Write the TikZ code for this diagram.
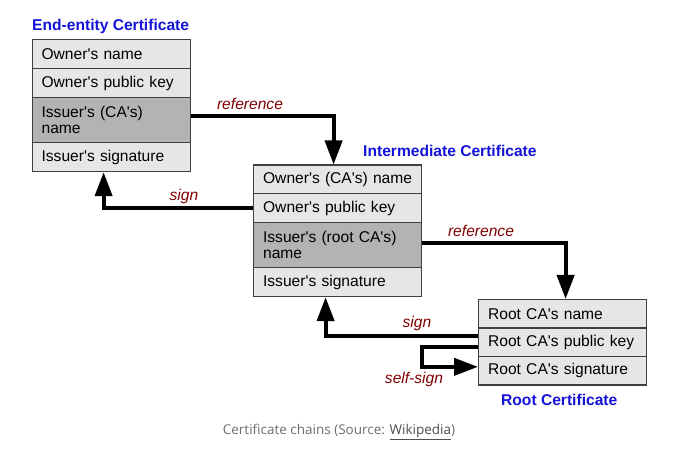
\documentclass[tikz,border=0pt]{standalone}
\usepackage{fontspec}
\setmainfont{Liberation Sans}
\newfontfamily\capfont{Open Sans}
\usetikzlibrary{arrows.meta}

\definecolor{fieldgray}{HTML}{E6E6E6}
\definecolor{issuergray}{HTML}{B3B3B3}
\definecolor{framegray}{HTML}{404040}
\definecolor{titleblue}{HTML}{1414D8}
\definecolor{signred}{HTML}{800000}
\definecolor{capgray}{HTML}{6A6F75}
\definecolor{linkgray}{HTML}{4A4F53}

\newcommand{\sq}{\textquotesingle}

\tikzset{
  field/.style={draw=framegray, line width=1.2pt, fill=fieldgray, anchor=north west,
    minimum height=29pt, text width=140pt, inner xsep=9pt, align=left,
    font=\fontsize{15.6}{16.5}\selectfont},
  issuer/.style={field, fill=issuergray, minimum height=45pt},
  wide/.style={text width=149pt, inner xsep=9.5pt},
  certtitle/.style={anchor=base west, inner sep=0pt, text=titleblue,
    font=\fontsize{15.6}{17}\selectfont\bfseries},
  link/.style={line width=4pt, -{Triangle[width=17pt,length=24pt]}},
  linklabel/.style={inner sep=0pt, text=signred, font=\fontsize{15.6}{17}\selectfont\itshape}
}

\begin{document}
\begin{tikzpicture}[x=1pt, y=-1pt]
	\useasboundingbox[fill=white] (0,0) rectangle (681,462);
	% end-entity certificate
	\node[certtitle] (ee-title) at (32,31) {End-entity Certificate};
	\node[field] (ee-owner) at (32,39) {Owner\sq s name};
	\node[field] (ee-key) at (32,68) {Owner\sq s public key};
	\node[issuer] (ee-issuer) at (32,97) {Issuer\sq s (CA\sq s)\\name};
	\node[field] (ee-sig) at (32,142) {Issuer\sq s signature};
	% intermediate certificate
	\node[certtitle] (im-title) at (363,156.5) {Intermediate Certificate};
	\node[field, wide] (im-owner) at (253,164.5) {Owner\sq s (CA\sq s) name};
	\node[field, wide] (im-key) at (253,193) {Owner\sq s public key};
	\node[issuer, wide] (im-issuer) at (253,222) {Issuer\sq s (root CA\sq s)\\name};
	\node[field, wide] (im-sig) at (253,267) {Issuer\sq s signature};
	% root certificate
	\node[certtitle] (root-title) at (501,405.5) {Root Certificate};
	\node[field, wide, minimum height=28.5pt] (root-owner) at (478,299) {Root CA\sq s name};
	\node[field, wide, minimum height=28.5pt] (root-key) at (478,327.5) {Root CA\sq s public key};
	\node[field, wide, minimum height=28.5pt] (root-sig) at (478,356) {Root CA\sq s signature};
	% links
	\draw[link] ([yshift=4.5pt]ee-issuer.east) -| ([xshift=-4pt]im-owner.north);
	\draw[link] (im-key.west) -| ([xshift=-8pt]ee-sig.south);
	\draw[link] ([yshift=2.5pt]im-issuer.east) -| ([xshift=3pt]root-owner.north);
	\draw[link] ([yshift=6pt]root-key.west) -| ([xshift=-12pt]im-sig.south);
	\draw[link] ([yshift=-5pt]root-key.west) -- ++(-56,0) |- ([yshift=4pt]root-sig.west);
	\node[linklabel] (ref-a) at (250,104) {reference};
	\node[linklabel] (sign-a) at (184,196) {sign};
	\node[linklabel] (ref-b) at (481,231) {reference};
	\node[linklabel] (sign-b) at (417,323) {sign};
	\node[linklabel] (self-sign) at (414,379) {self-sign};
	% caption
	\node[text=capgray, font=\capfont\fontsize{13.5}{15}\selectfont] (caption) at (339,432)
		{Certificate chains (Source: {\color{linkgray}\underline{Wikipedia}})};
\end{tikzpicture}
\end{document}
